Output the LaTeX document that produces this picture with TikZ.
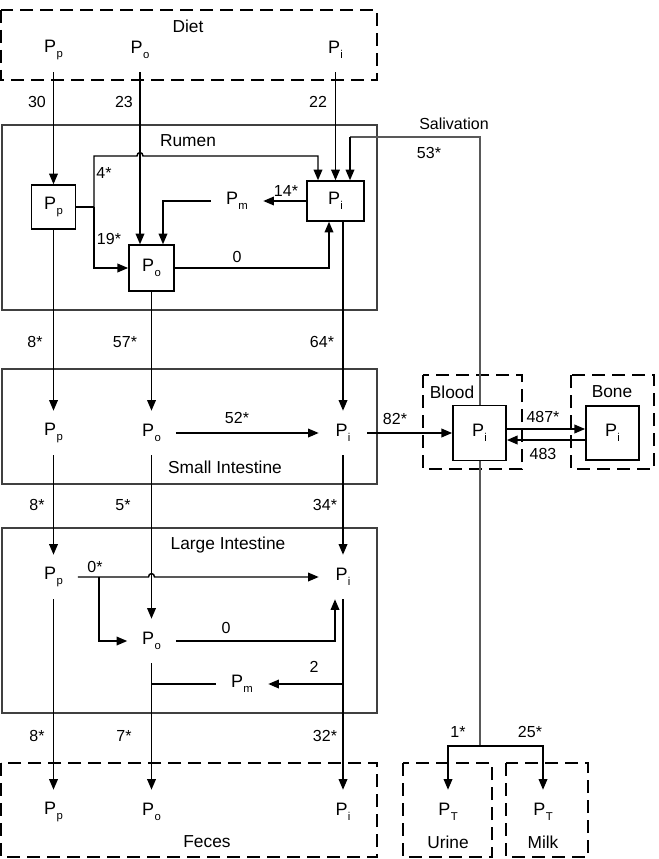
\documentclass[tikz,border=0pt]{standalone}
\usepackage{fontspec}
\setmainfont{Liberation Sans}
\usetikzlibrary{arrows.meta,calc}
\newcommand\Ps[1]{P\kern0.3pt\raisebox{-0.5ex}{\fontsize{8.5}{9}\selectfont #1}}
\begin{document}
\begin{tikzpicture}[x=0.75pt,y=-0.75pt,
  arr/.style={-{Triangle[length=8pt,width=6.5pt]}, line width=1.1pt},
  ln/.style={line width=1.1pt},
  gl/.style={line width=1.5pt, draw=black!65},
  region/.style={draw=black!75, line width=1pt},
  dbox/.style={draw, line width=1.7pt, dash pattern=on 10pt off 5pt},
  pbox/.style={draw, line width=1.1pt, inner sep=0, font=\fontsize{13.5}{15}\selectfont},
  ptxt/.style={inner sep=0, minimum width=36pt, minimum height=33pt, font=\fontsize{13.5}{15}\selectfont},
  lab/.style={inner sep=0, font=\fontsize{12}{14}\selectfont},
  ttl/.style={inner sep=0, font=\fontsize{13}{15}\selectfont}]
\useasboundingbox (0,0) rectangle (658,859);

% containers
\draw[dbox] (1,10) rectangle (377,80);
\draw[region] (2,125) rectangle (377,310);
\draw[region] (2,369) rectangle (377,484);
\draw[region] (2,528) rectangle (377,713);
\draw[dbox] (1,763) rectangle (377,857);
\draw[dbox] (423,375) rectangle (522,469);
\draw[dbox] (571,375) rectangle (654,469);
\draw[dbox] (403,763) rectangle (492,857);
\draw[dbox] (506,763) rectangle (588,857);

% titles
\node[ttl] (tDiet) at (188,26) {Diet};
\node[ttl] (tRumen) at (188,141) {Rumen};
\node[ttl] (tSI) at (225,467) {Small Intestine};
\node[ttl] (tLI) at (228,545) {Large Intestine};
\node[ttl] (tFeces) at (207,842) {Feces};
\node[ttl] (tBlood) at (452,392) {Blood};
\node[ttl] (tBone) at (612,392) {Bone};
\node[ttl] (tUrine) at (448,842) {Urine};
\node[ttl] (tMilk) at (543,842) {Milk};

% pools
\node[ptxt] (dPp) at (53.5,50) {\Ps{p}};
\node[ptxt] (dPo) at (140,50) {\Ps{o}};
\node[ptxt] (dPi) at (335.5,50) {\Ps{i}};

\node[pbox, minimum width=33pt, minimum height=33pt] (rPp) at (53.5,207) {\Ps{p}};
\node[pbox, minimum width=34pt, minimum height=34.5pt] (rPo) at (151.5,268) {\Ps{o}};
\node[pbox, minimum width=42.75pt, minimum height=30pt] (rPi) at (335.5,201) {\Ps{i}};
\node[ptxt, minimum width=39pt] (rPm) at (237,201) {\Ps{m}};

\node[ptxt] (sPp) at (53.5,433) {\Ps{p}};
\node[ptxt] (sPo) at (151.5,433) {\Ps{o}};
\node[ptxt] (sPi) at (343,433) {\Ps{i}};

\node[pbox, minimum width=40pt, minimum height=41pt] (bPi) at (479.5,433) {\Ps{i}};
\node[pbox, minimum width=40pt, minimum height=40.5pt] (oPi) at (612.5,433) {\Ps{i}};

\node[ptxt] (lPp) at (53.5,577) {\Ps{p}};
\node[ptxt] (lPo) at (151.5,641) {\Ps{o}};
\node[ptxt] (lPi) at (343,577) {\Ps{i}};
\node[ptxt, minimum width=39pt] (lPm) at (242,684) {\Ps{m}};

\node[ptxt] (fPp) at (53.5,812) {\Ps{p}};
\node[ptxt] (fPo) at (151.5,812) {\Ps{o}};
\node[ptxt] (fPi) at (343,812) {\Ps{i}};
\node[ptxt] (uPT) at (448,812) {\Ps{T}};
\node[ptxt] (mPT) at (543,812) {\Ps{T}};

% diet -> rumen
\draw[arr] (dPp) -- (rPp);
\draw[arr] (dPo.south) -- (dPo.south |- rPo.north);
\draw[arr] (dPi.south) -- (dPi.south |- rPi.north);

% rumen internal
\coordinate (j4) at (94,207);
\coordinate (c4) at (318,156);
\draw[ln] (rPp.east) -- (j4);
\draw[arr] (j4) -- (94,156) -- (137,156) .. controls (137,151.5) and (143,151.5) .. (143,156) -- (c4) -- (c4 |- rPi.north);
\draw[arr] (j4) |- (rPo.west);
\draw[arr] (rPi.west) -- (rPm.east);
\draw[arr] (rPm.west) -| ($(rPo.north)+(11.5,0)$);
\draw[arr] (rPo.east) -| ($(rPi.south)+(-6.5,0)$);

% salivation
\coordinate (s1) at (350,137);
\draw[gl] (bPi.north) |- (s1);
\draw[arr] (s1) -- (s1 |- rPi.north);

% rumen -> small intestine
\draw[arr] (rPp) -- (sPp);
\draw[arr] (rPo) -- (sPo);
\draw[arr] ($(rPi.south)+(7.5,0)$) -- (sPi.north);

% small intestine
\draw[arr] (sPo) -- (sPi);
\draw[arr] (sPi.east) -- (sPi.east -| bPi.west);
\draw[arr] ($(bPi.east)+(0,-4)$) -- ($(oPi.west)+(0,-4)$);
\draw[arr] ($(oPi.west)+(0,7)$) -- ($(bPi.east)+(0,7)$);

% blood -> urine, milk
\coordinate (jb) at (479.5,746);
\draw[gl] (bPi.south) -- (jb);
\draw[arr] (jb) -| (uPT.north);
\draw[arr] (jb) -| (mPT.north);

% small -> large intestine
\draw[arr] (sPp) -- (lPp);
\draw[arr] (sPo) -- (lPo);
\draw[arr] (sPi) -- (lPi);

% large intestine internal
\coordinate (j0) at (99,577);
\draw[arr] (lPp.east) -- (148.5,577) .. controls (148.5,572.5) and (154.5,572.5) .. (154.5,577) -- (lPi.west);
\draw[arr] (j0) |- (lPo.west);
\draw[arr] (lPo.east) -| ($(lPi.south)+(-8,0)$);
\coordinate (j2) at (343,684);
\draw[arr] (j2) -- (lPm.east);
\draw[ln] (lPm.west) -- (lPm.west -| lPo.south);

% large intestine -> feces
\draw[arr] (lPp) -- (fPp);
\draw[arr] (lPo) -- (fPo);
\draw[arr] (lPi) -- (fPi);

% labels
\node[lab] (l30) at (37,102) {30};
\node[lab] (l23) at (124,102) {23};
\node[lab] (l22) at (318,102) {22};
\node[lab] (l4) at (104,173) {4*};
\node[lab] (l19) at (109,239) {19*};
\node[lab] (l14) at (286,191) {14*};
\node[lab] (l0r) at (237,257) {0};
\node[lab] (lSal) at (454,124) {Salivation};
\node[lab] (l53) at (429,153) {53*};
\node[lab] (l8a) at (35,342) {8*};
\node[lab] (l57) at (125,342) {57*};
\node[lab] (l64) at (322,342) {64*};
\node[lab] (l52) at (237,418) {52*};
\node[lab] (l82) at (395,419) {82*};
\node[lab] (l487) at (543,417) {487*};
\node[lab] (l483) at (543,454) {483};
\node[lab] (l8b) at (37,505) {8*};
\node[lab] (l5) at (123,505) {5*};
\node[lab] (l34) at (325,505) {34*};
\node[lab] (l0s) at (95,567) {0*};
\node[lab] (l0l) at (226,628) {0};
\node[lab] (l2) at (314,667) {2};
\node[lab] (l8c) at (37,736) {8*};
\node[lab] (l7) at (124,736) {7*};
\node[lab] (l32) at (325,736) {32*};
\node[lab] (l1) at (458,732) {1*};
\node[lab] (l25) at (530,732) {25*};
\end{tikzpicture}
\end{document}
